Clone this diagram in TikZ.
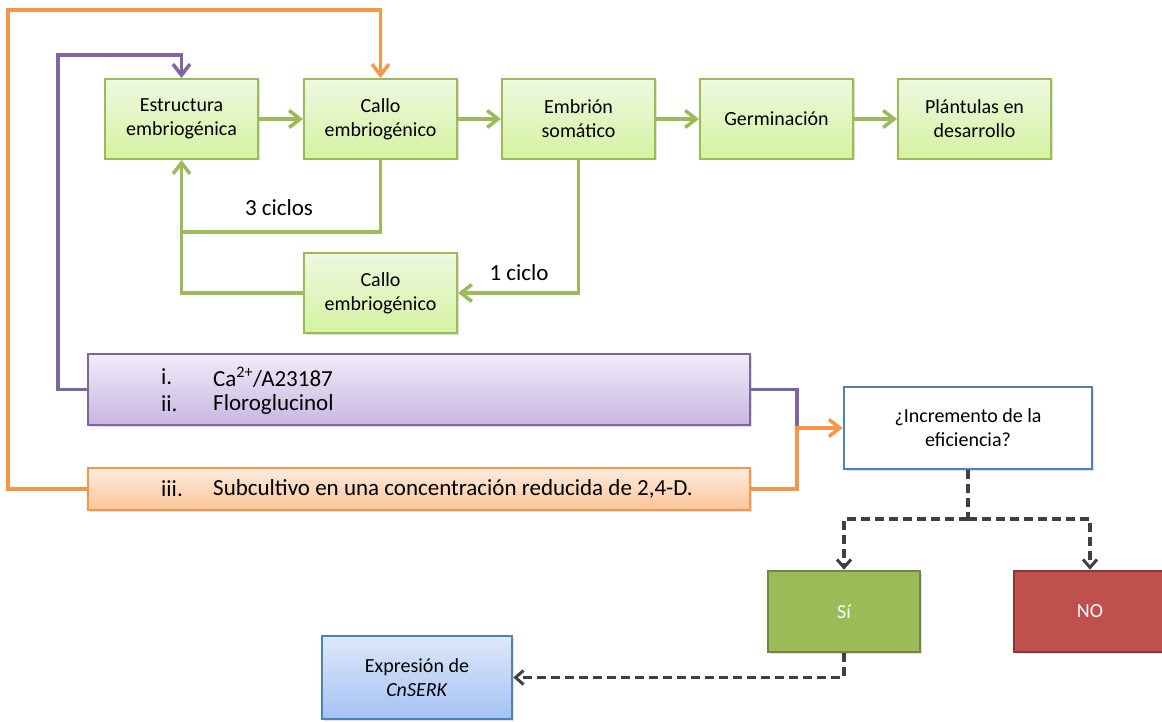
\documentclass[tikz,border=0pt]{standalone}
\usepackage{fontspec}
\setmainfont{Carlito}
\usetikzlibrary{arrows.meta,shadows}
\definecolor{grnLine}{HTML}{9BBB59}
\definecolor{grnTop}{HTML}{EEF8E0}
\definecolor{grnBot}{HTML}{D5F2A0}
\definecolor{purLine}{HTML}{8064A2}
\definecolor{purTop}{HTML}{F0ECF8}
\definecolor{purBot}{HTML}{C8B6E2}
\definecolor{orgLine}{HTML}{F79646}
\definecolor{orgTop}{HTML}{FDEBDD}
\definecolor{orgBot}{HTML}{FBC59A}
\definecolor{bluLine}{HTML}{4F81BD}
\definecolor{bluTop}{HTML}{DDE7F9}
\definecolor{bluBot}{HTML}{A5C3F5}
\definecolor{siFill}{HTML}{9BBB59}
\definecolor{siLine}{HTML}{71893F}
\definecolor{noFill}{HTML}{C0504D}
\definecolor{noLine}{HTML}{8C3836}
\definecolor{dashGray}{HTML}{404040}
\begin{document}
\begin{tikzpicture}[x=1pt,y=-1pt,
  shade/.style={drop shadow={opacity=0.25,shadow xshift=1.5pt,shadow yshift=-1.5pt}},
  boxfont/.style={font=\fontsize{20}{24}\selectfont},
  stagebox/.style={draw=grnLine,line width=2pt,top color=grnTop,bottom color=grnBot,
    minimum width=153pt,minimum height=80pt,inner sep=2pt,align=center,boxfont,shade},
  bigtip/.style={-{Straight Barb[length=11pt,width=17pt,line width=3.5pt]}},
  smalltip/.style={-{Straight Barb[length=8pt,width=14pt,line width=3pt]}},
  grnplain/.style={draw=grnLine,line width=3.5pt},
  grnarrow/.style={grnplain,bigtip},
  purline/.style={draw=purLine,line width=3.5pt},
  orgline/.style={draw=orgLine,line width=3.5pt},
  dashline/.style={draw=dashGray,line width=3.5pt,dash pattern=on 9pt off 5pt},
  lbl/.style={font=\fontsize{23}{27}\selectfont,inner sep=0pt},
  listtxt/.style={font=\fontsize{23}{27}\selectfont,anchor=west,inner sep=0pt}]
\useasboundingbox (0,0) rectangle (1162,722);

% main sequence of stages
\node[stagebox] (est)   at (181.5,119) {Estructura\\embriogénica};
\node[stagebox] (callo) at (380.5,119) {Callo\\embriogénico};
\node[stagebox] (emb)   at (578.5,119) {Embrión\\somático};
\node[stagebox] (germ)  at (776.5,119) {Germinación};
\node[stagebox] (plant) at (974.5,119) {Plántulas en\\desarrollo};
\node[stagebox] (callob) at (380.5,293) {Callo\\embriogénico};

% treatment boxes
\node[draw=purLine,line width=2.5pt,top color=purTop,bottom color=purBot,
      minimum width=662pt,minimum height=71pt,inner sep=0pt,shade] (pur) at (419,389.5) {};
\node[listtxt] (pi)  at (161,377) {i.};
\node[listtxt] (pit) at (213,377) {Ca\textsuperscript{2+}/A23187};
\node[listtxt] (pii) at (161,404) {ii.};
\node[listtxt] (piit) at (213,404) {Floroglucinol};

\node[draw=orgLine,line width=2.5pt,top color=orgTop,bottom color=orgBot,
      minimum width=662pt,minimum height=42pt,inner sep=0pt,shade] (org) at (419,489) {};
\node[listtxt] (oiii) at (161,489) {iii.};
\node[listtxt] (oiiit) at (213,489) {Subcultivo en una concentración reducida de 2,4-D.};

% decision and outcomes
\node[draw=bluLine,line width=2.5pt,fill=white,minimum width=248pt,minimum height=82pt,
      align=center,boxfont,shade] (q) at (968,428)
      {¿Incremento de la\\eficiencia?};
\node[draw=siLine,line width=2.5pt,fill=siFill,minimum width=152pt,minimum height=81pt,
      text=white,boxfont,shade] (si) at (844,611.5) {Sí};
\node[draw=noLine,line width=2.5pt,fill=noFill,minimum width=152pt,minimum height=81pt,
      text=white,boxfont,shade] (no) at (1090,611.5) {NO};
\node[draw=bluLine,line width=2.5pt,top color=bluTop,bottom color=bluBot,
      minimum width=190pt,minimum height=83pt,align=center,boxfont,shade] (expr) at (417,677.5)
      {Expresión de\\\textit{CnSERK}};

% forward arrows
\draw[grnarrow] (est) -- (callo);
\draw[grnarrow] (callo) -- (emb);
\draw[grnarrow] (emb) -- (germ);
\draw[grnarrow] (germ) -- (plant);

% recycling loops
\coordinate (loopy) at (0,232);
\draw[grnarrow] (callo.south) -- (callo.south |- loopy) -| (est.south);
\node[lbl] (tres) at (279,208) {3 ciclos};
\draw[grnarrow] (emb.south) |- (callob.east);
\node[lbl] (uno) at (519,273) {1 ciclo};
\draw[grnplain] (callob.west) -| (est.south |- loopy);

% feedback from the treatments
\coordinate (pcorner) at (58,55);
\draw[purline,bigtip] (pur.west) -| (pcorner) -| (est.north);
\coordinate (ocorner) at (8,10);
\draw[orgline,bigtip] (org.west) -| (ocorner) -| (callo.north);

% treatments into the decision
\coordinate (join) at (797,428);
\draw[purline] (pur.east) -| (join);
\draw[orgline,bigtip] (org.east) -| (join) -- (q.west);

% decision branches
\coordinate (split) at (968,519);
\draw[dashline] (q.south) -- (split);
\draw[dashline,smalltip] (split) -| (si.north);
\draw[dashline,smalltip] (split) -| (no.north);
\draw[dashline,smalltip] (si.south) |- (expr.east);
\end{tikzpicture}
\end{document}
